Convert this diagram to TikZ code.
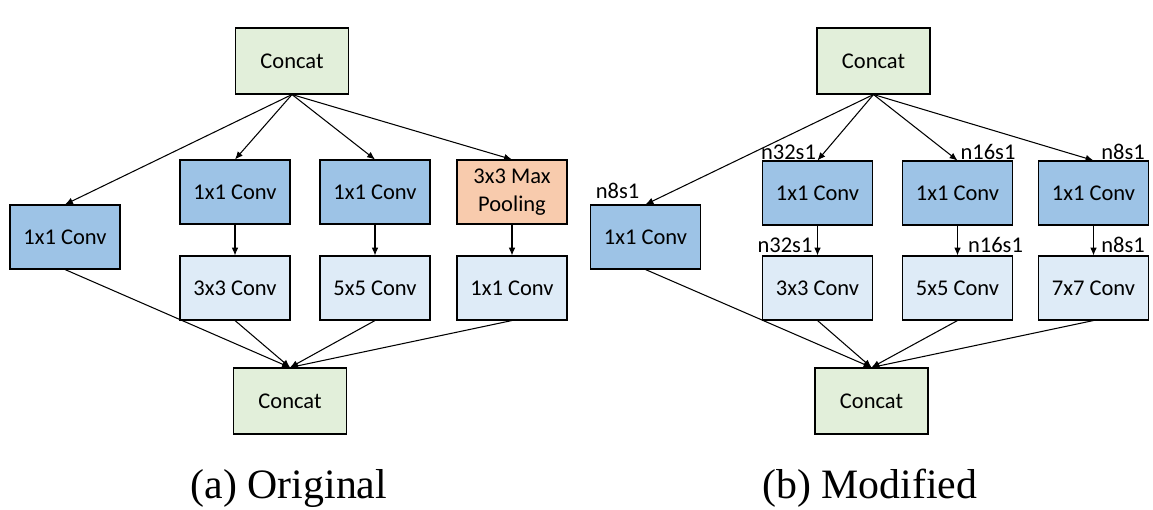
\documentclass[tikz,border=0pt]{standalone}
\usepackage{fontspec}
\setmainfont{Carlito}
\newfontfamily\capfont{Liberation Serif}
\usetikzlibrary{arrows.meta}

\definecolor{concatgreen}{HTML}{E2EFDA}
\definecolor{convblue}{HTML}{9DC3E6}
\definecolor{convlight}{HTML}{DEEBF7}
\definecolor{poolorange}{HTML}{F8CBAD}

\tikzset{
  layer/.style={draw, line width=0.6pt, minimum width=2.2cm, minimum height=1.28cm,
    inner sep=1pt, align=center, font=\fontsize{12.8}{15.9}\selectfont},
  concat/.style={layer, fill=concatgreen, minimum width=2.26cm, minimum height=1.32cm},
  reduce/.style={layer, fill=convblue},
  conv/.style={layer, fill=convlight},
  pool/.style={layer, fill=poolorange},
  tag/.style={inner sep=0pt, font=\fontsize{12.8}{15}\selectfont},
  caption/.style={anchor=base, font=\capfont\fontsize{23.8}{28}\selectfont}
}

\begin{document}
\begin{tikzpicture}[>={Latex[length=4.5pt,width=3.8pt]}, line width=0.6pt]
\useasboundingbox (0,0) rectangle (23.06,10.18);

% (a) original block
\node (topA) at (5.84,8.96) [concat] {Concat};
\node (a1) at (1.30,5.44) [reduce] {1x1 Conv};
\node (a2) at (4.70,6.34) [reduce] {1x1 Conv};
\node (a3) at (7.50,6.34) [reduce] {1x1 Conv};
\node (a4) at (10.24,6.34) [pool] {3x3 Max\\Pooling};
\node (b2) at (4.70,4.42) [conv] {3x3 Conv};
\node (b3) at (7.50,4.42) [conv] {5x5 Conv};
\node (b4) at (10.24,4.42) [conv] {1x1 Conv};
\node (botA) at (5.80,2.16) [concat] {Concat};

\draw[->] (topA.south) -- (a1.north);
\draw[->] (topA.south) -- (a2.north);
\draw[->] (topA.south) -- (a3.north);
\draw[->] (topA.south) -- (a4.north);
\draw[->] (a2) -- (b2);
\draw[->] (a3) -- (b3);
\draw[->] (a4) -- (b4);
\draw[->] (a1.south) -- (botA.north);
\draw[->] (b2.south) -- (botA.north);
\draw[->] (b3.south) -- (botA.north);
\draw[->] (b4.south) -- (botA.north);

\node (capA) at (5.78,0.22) [caption] {(a)\ Original};

% (b) modified block
\node (topB) at (17.47,8.96) [concat] {Concat};
\node (c1) at (12.91,5.44) [reduce] {1x1 Conv};
\node (c2) at (16.35,6.32) [reduce] {1x1 Conv};
\node (c3) at (19.15,6.32) [reduce] {1x1 Conv};
\node (c4) at (21.87,6.32) [reduce] {1x1 Conv};
\node (d2) at (16.35,4.42) [conv] {3x3 Conv};
\node (d3) at (19.15,4.42) [conv] {5x5 Conv};
\node (d4) at (21.87,4.42) [conv] {7x7 Conv};
\node (botB) at (17.43,2.16) [concat] {Concat};

\draw[->] (topB.south) -- (c1.north);
\draw[->] (topB.south) -- (c2.north);
\draw[->] (topB.south) -- (c3.north);
\draw[->] (topB.south) -- (c4.north);
\draw[->] (c2) -- (d2);
\draw[->] (c3) -- (d3);
\draw[->] (c4) -- (d4);
\draw[->] (c1.south) -- (botB.north);
\draw[->] (d2.south) -- (botB.north);
\draw[->] (d3.south) -- (botB.north);
\draw[->] (d4.south) -- (botB.north);

% filter counts and strides
\node (t1) at (12.35,6.36) [tag] {n8s1};
\node (t2) at (15.77,7.13) [tag] {n32s1};
\node (t3) at (19.76,7.14) [tag] {n16s1};
\node (t4) at (22.46,7.14) [tag] {n8s1};
\node (t5) at (15.70,5.28) [tag] {n32s1};
\node (t6) at (19.91,5.28) [tag] {n16s1};
\node (t7) at (22.46,5.28) [tag] {n8s1};

\node (capB) at (17.40,0.22) [caption] {(b)\ Modified};

\end{tikzpicture}
\end{document}
